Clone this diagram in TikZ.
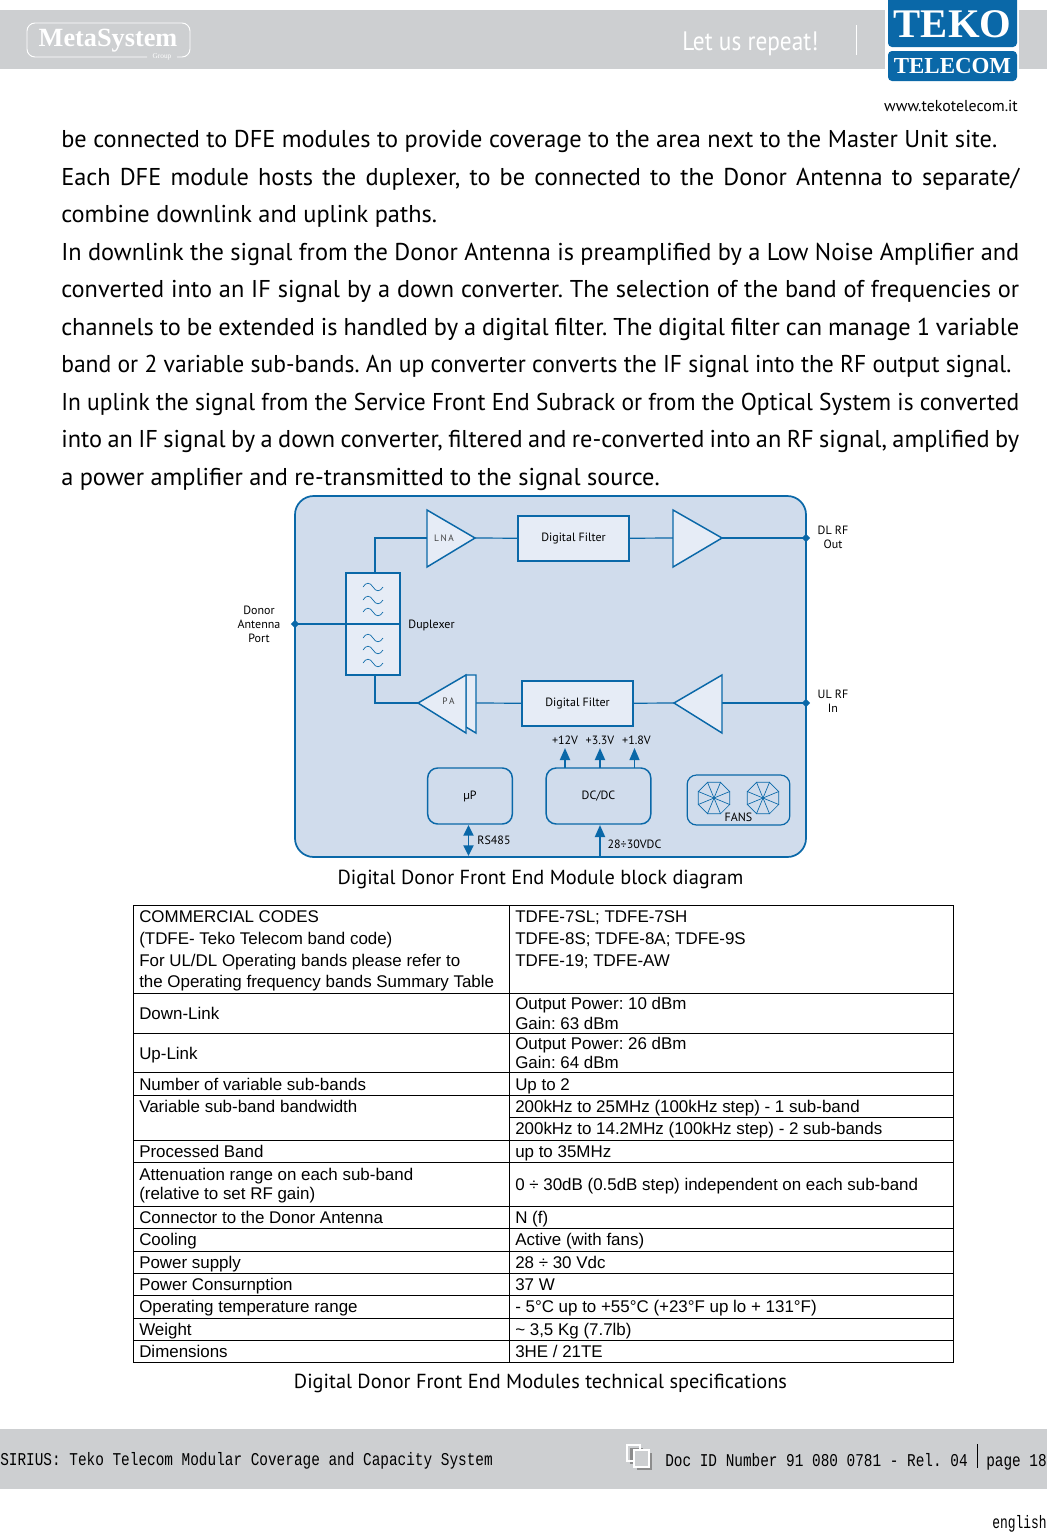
\documentclass[tikz,border=0pt]{standalone}
\usepackage{fontspec}
\setmainfont{PT Sans}
\newfontfamily\tablefont{Liberation Sans}
\newfontfamily\logofont{Liberation Serif}
\newfontfamily\footfont{Liberation Mono}
\usepackage{xcolor}
\usetikzlibrary{arrows.meta, shapes.geometric}
\definecolor{bandgrey}{HTML}{CDCFD1}
\definecolor{tekoblue}{HTML}{0A68A8}
\definecolor{panelblue}{HTML}{D0DCEC}
\definecolor{partblue}{HTML}{E6ECF6}
\newcommand{\spreadline}[3]{\node[anchor=base west, inner sep=0pt, font=\fontsize{18.25pt}{20pt}\selectfont] (#1) at (61,#2) {\spaceskip=.2em plus 1em\hbox to 718.5pt{#3}};}
\newcommand{\fitline}[4]{\node[anchor=base west, inner sep=0pt, font=\fontsize{18.25pt}{20pt}\selectfont] (#1) at (61,#2) {\resizebox{#3}{\height}{#4}};}
\newcommand{\footscaled}[1]{\scalebox{0.8}[1]{\fontsize{13.5pt}{15pt}\footfont #1}}
\begin{document}
\frenchspacing
\begin{tikzpicture}[
  x=0.75pt, y=-0.75pt,
  inner sep=0pt,
  body/.style={anchor=base west, font=\fontsize{18.25pt}{20pt}\selectfont},
  cell/.style={anchor=base west, font=\fontsize{12.7pt}{15pt}\tablefont},
  small/.style={font=\fontsize{9pt}{10.5pt}\selectfont, align=center, text=black},
  filterbox/.style={draw=tekoblue, fill=partblue, line width=1.1pt},
  amp/.style={draw=tekoblue, fill=partblue, line width=1.1pt, line join=miter},
  wire/.style={draw=tekoblue, line width=0.9pt},
  softbox/.style={draw=tekoblue, line width=1.1pt, rounded corners=7.5pt},
  powarr/.style={draw=tekoblue, line width=1.4pt, -{Triangle[length=9pt,width=7.5pt]}},
  port/.style={fill=tekoblue, diamond, minimum size=6.5pt},
  rule/.style={draw=black, line width=0.7pt}
]
\useasboundingbox (0,0) rectangle (1047,1532);
% header band
\fill[bandgrey] (0,10) rectangle (1047,69);
\draw[white, line width=0.7pt, rounded corners=6pt] (147,57) -- (27,57) -- (27,23) -- (190,23) -- (190,57) -- (177,57);
\node[text=white, font=\fontsize{19.7pt}{20pt}\logofont\bfseries] (metalogo) at (108,41) {MetaSystem};
\node[text=white, font=\fontsize{5.5pt}{6pt}\logofont] (grouplabel) at (162,57) {Group};
\node[text=white, anchor=base west, font=\fontsize{20pt}{20pt}\selectfont] (repeat) at (682,50) {\scalebox{0.875}[1]{Let us repeat!}};
\draw[white, line width=0.6pt] (856,25) -- (856,55);
\fill[white] (885,0) rectangle (1019,83);
\fill[tekoblue, rounded corners=3pt] (888,-6) rectangle (1017,47);
\fill[tekoblue, rounded corners=3pt] (888,51) rectangle (1017,81);
\node[text=white, font=\fontsize{30.5pt}{33pt}\logofont\bfseries] (tekologo) at (952.5,24) {TEKO};
\node[text=white, font=\fontsize{17.2pt}{18pt}\logofont\bfseries] (telecomlogo) at (952.5,66) {TELECOM};
\node[font=\fontsize{11.9pt}{12pt}\selectfont] (website) at (951,105.5) {www.tekotelecom.it};
% running text
\node[body] (line1) at (61,147) {be connected to DFE modules to provide coverage to the area next to the Master Unit site.};
\spreadline{line2}{185}{Each DFE module hosts the duplexer, to be connected to the Donor Antenna to separate/}
\node[body] (line3) at (61,222) {combine downlink and uplink paths.};
\spreadline{line4}{260}{In downlink the signal from the Donor Antenna is preamplified by a Low Noise Amplifier and}
\spreadline{line5}{297}{converted into an IF signal by a down converter. The selection of the band of frequencies or}
\spreadline{line6}{335}{channels to be extended is handled by a digital filter. The digital filter can manage 1 variable}
\fitline{line7}{372}{712.5pt}{band or 2 variable sub-bands. An up converter converts the IF signal into the RF output signal.}
\fitline{line8}{410}{718.5pt}{In uplink the signal from the Service Front End Subrack or from the Optical System is converted}
\spreadline{line9}{447}{into an IF signal by a down converter, filtered and re-converted into an RF signal, amplified by}
\node[body] (line10) at (61,485) {a power amplifier and re-transmitted to the signal source.};
% block diagram
\draw[draw=tekoblue, fill=panelblue, line width=1.3pt, rounded corners=14pt] (295,496) rectangle (806,857);
\coordinate (donorport) at (295,624);
\coordinate (dlport) at (806,538);
\coordinate (ulport) at (806,703);
\coordinate (lnain) at (427,538);
\coordinate (lnaout) at (475,538);
\coordinate (dlampin) at (673,538);
\coordinate (dlampout) at (722,538);
\coordinate (paout) at (418,703);
\coordinate (pain) at (476,703);
\coordinate (ulampin) at (722,703);
\coordinate (ulampout) at (674,703);
\coordinate (dupbottom) at (375,675);
\coordinate (duptop) at (375,573);
\node[filterbox, minimum width=83pt, minimum height=33.5pt, font=\fontsize{9pt}{10pt}\selectfont] (dlfilter) at (573.5,538.5) {\raisebox{-2pt}{Digital Filter}};
\node[filterbox, minimum width=83pt, minimum height=33.5pt, font=\fontsize{9pt}{10pt}\selectfont] (ulfilter) at (577.5,703.5) {\raisebox{-2pt}{Digital Filter}};
\draw[wire] (lnaout) -- (dlfilter);
\draw[wire] (dlfilter) -- (dlampin);
\draw[wire] (dlampout) -- (dlport);
\draw[wire] (ulport) -- (ulampin);
\draw[wire] (ulampout) -- (ulfilter);
\draw[wire] (ulfilter) -- (pain);
\draw[wire, line width=1.1pt] (duptop) |- (lnain);
\draw[wire, line width=1.1pt] (dupbottom) |- (paout);
\draw[amp] (427,510) -- (427,567) -- (475,538) -- cycle;
\draw[amp] (673,510) -- (673,567) -- (722,538) -- cycle;
\draw[amp] (466,675) -- (476,675) -- (476,733) -- (466,727) -- cycle;
\draw[amp] (466,675) -- (466,733) -- (418,703) -- cycle;
\draw[amp] (722,675) -- (722,733) -- (674,703) -- cycle;
\node[font=\fontsize{7pt}{8pt}\selectfont, text=black!75] (lnalabel) at (444,538.5) {L\,N\,A};
\node[font=\fontsize{7pt}{8pt}\selectfont, text=black!75] (palabel) at (448.5,701.5) {P\,A};
% duplexer
\draw[filterbox] (346,573) rectangle (400,675);
\foreach \ypos in {587,600,612,638,650,663} {
  \draw[tekoblue, line width=0.5pt] (363,\ypos) .. controls (366,\ypos-5) and (370,\ypos-5) .. (373,\ypos) .. controls (376,\ypos+5) and (380,\ypos+5) .. (383,\ypos);
}
\draw[wire, line width=1.5pt] (donorport) -- (400,624);
\node[port] (donordot) at (donorport) {};
\node[port] (dldot) at (dlport) {};
\node[port] (uldot) at (ulport) {};
\node[small] (donorlabel) at (259,624) {Donor\\Antenna\\Port};
\node[small] (duplexerlabel) at (431.5,625) {Duplexer};
\node[small] (dllabel) at (833,537) {DL RF\\Out};
\node[small] (ullabel) at (833,701) {UL RF\\In};
% bottom row
\node[softbox, minimum width=63.5pt, minimum height=42pt, font=\fontsize{9pt}{10pt}\selectfont] (micro) at (470,796) {\raisebox{-1.8pt}{µP}};
\node[softbox, minimum width=78.5pt, minimum height=42pt, font=\fontsize{9pt}{10pt}\selectfont] (dcdc) at (598.5,796) {\raisebox{-1.6pt}{DC/DC}};
\node[draw=tekoblue, line width=0.9pt, rounded corners=7pt, minimum width=77pt, minimum height=37.5pt] (fans) at (738.5,800) {};
\foreach \xpos in {714,763} {
  \foreach \ang in {22.5,67.5,...,337.5} {
    \draw[tekoblue, line width=0.5pt] (\xpos,798) -- +(\ang:17) -- +(\ang+45:17);
  }
}
\node[small] (fanslabel) at (738.5,817.5) {FANS};
\coordinate (rsbottom) at (468.5,856);
\coordinate (powerin) at (600,857);
\coordinate (v12tip) at (565,748);
\coordinate (v33tip) at (600,748);
\coordinate (v18tip) at (634.5,748);
\draw[powarr] (565,768) -- (v12tip);
\draw[powarr] (600,768) -- (v33tip);
\draw[powarr, line width=0.9pt] (634.5,768) -- (v18tip);
\draw[draw=tekoblue, line width=1.4pt, {Triangle[length=8pt,width=7.5pt]}-{Triangle[length=8pt,width=7.5pt]}] (468.5,825) -- (rsbottom);
\draw[powarr] (powerin) -- (600,825);
\node[small] (v12label) at (565,740) {+12V};
\node[small] (v33label) at (600,740) {+3.3V};
\node[small] (v18label) at (636.5,740) {+1.8V};
\node[small] (rslabel) at (494,840.5) {RS485};
\node[small] (vdclabel) at (634.5,844.5) {28÷30VDC};
\node[font=\fontsize{15.25pt}{18pt}\selectfont] (diagramcaption) at (540.5,879) {Digital Donor Front End Module block diagram};
% spec table
\draw[rule] (133,905) rectangle (953,1362);
\draw[rule] (509,905) -- (509,1362);
\foreach \ypos in {993,1033,1072,1095,1140,1162,1206,1228,1251,1273,1295,1318,1340} {
  \draw[rule] (133,\ypos) -- (953,\ypos);
}
\draw[rule] (509,1117) -- (953,1117);
\foreach \ypos/\celltext [count=\n] in {
  922/{COMMERCIAL CODES}, 944/{(TDFE- Teko Telecom band code)}, 966/{For UL/DL Operating bands please refer to},
  987/{the Operating frequency bands Summary Table}, 1019/{Down-Link}, 1059/{Up-Link},
  1090/{Number of variable sub-bands}, 1112/{Variable sub-band bandwidth}, 1157/{Processed Band},
  1180/{Attenuation range on each sub-band}, 1199/{(relative to set RF gain)}, 1223/{Connector to the Donor Antenna},
  1245/{Cooling}, 1268/{Power supply}, 1290/{Power Consurnption}, 1312/{Operating temperature range},
  1335/{Weight}, 1357/{Dimensions}} {
  \node[cell] (left\n) at (139,\ypos) {\celltext};
}
\foreach \ypos/\celltext [count=\n] in {
  922/{TDFE-7SL; TDFE-7SH}, 944/{TDFE-8S; TDFE-8A; TDFE-9S}, 966/{TDFE-19; TDFE-AW},
  1009/{Output Power: 10 dBm}, 1029/{Gain: 63 dBm}, 1049/{Output Power: 26 dBm}, 1068/{Gain: 64 dBm},
  1090/{Up to 2}, 1112/{200kHz to 25MHz (100kHz step) - 1 sub-band}, 1134/{200kHz to 14.2MHz (100kHz step) - 2 sub-bands},
  1157/{up to 35MHz}, 1190/{0 ÷ 30dB (0.5dB step) independent on each sub-band}, 1223/{N (f)},
  1245/{Active (with fans)}, 1268/{28 ÷ 30 Vdc}, 1290/{37 W}, 1312/{- 5°C up to +55°C (+23°F up lo + 131°F)},
  1335/{\textasciitilde{} 3,5 Kg (7.7lb)}, 1357/{3HE / 21TE}} {
  \node[cell] (right\n) at (515,\ypos) {\celltext};
}
\node[font=\fontsize{15.25pt}{18pt}\selectfont] (tablecaption) at (540.5,1383) {Digital Donor Front End Modules technical specifications};
% footer band
\fill[bandgrey] (0,1429) rectangle (1047,1489);
\node[anchor=base west] (footleft) at (0,1465) {\footscaled{SIRIUS: Teko Telecom Modular Coverage and Capacity System}};
\fill[black!45] (630,1448) rectangle (643,1464);
\fill[black!45] (637,1453) rectangle (652,1470);
\draw[draw=white, line width=1.2pt] (627,1445) rectangle (640,1461);
\draw[draw=white, fill=bandgrey, line width=1.2pt] (634,1450) rectangle (649,1467);
\node[anchor=base west] (footdoc) at (665,1466) {\footscaled{Doc ID Number 91 080 0781 - Rel. 04}};
\draw[black, line width=0.6pt] (977,1444) -- (977,1468);
\node[anchor=base west] (footpage) at (986,1466) {\footscaled{page 18}};
\node[anchor=base west] (language) at (992,1528) {\scalebox{0.72}[1]{\fontsize{13.5pt}{15pt}\footfont english}};
\end{tikzpicture}
\end{document}
